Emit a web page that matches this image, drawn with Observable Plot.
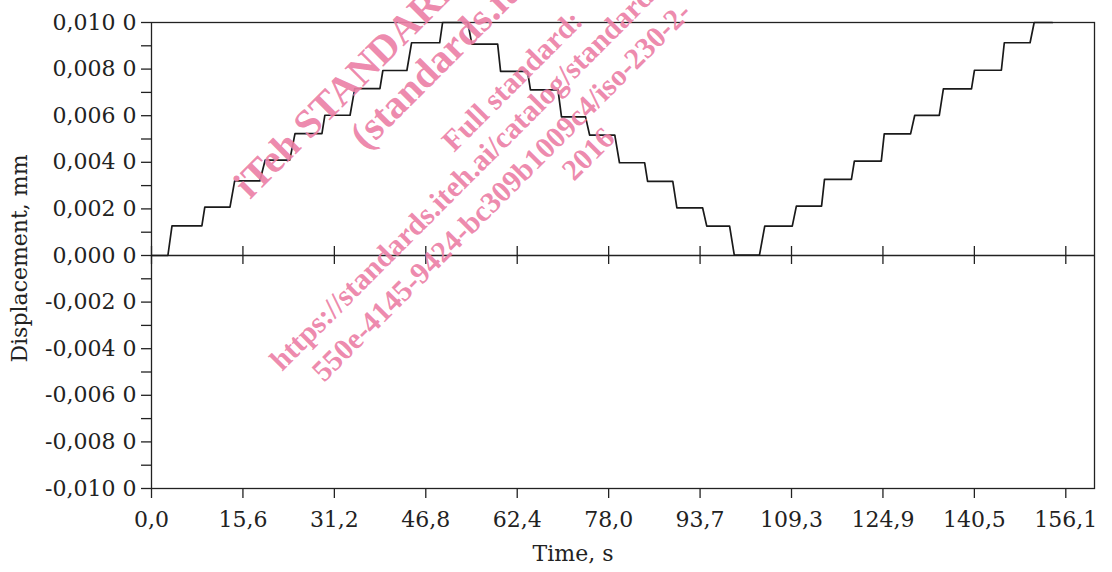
<!DOCTYPE html>
<html><head><meta charset="utf-8">
<script src="https://cdn.jsdelivr.net/npm/d3@7"></script>
<script src="https://cdn.jsdelivr.net/npm/@observablehq/plot@0.6"></script>
<style>
html,body{margin:0;padding:0;background:#fff;}
#wrap{position:relative;width:1112px;height:572px;overflow:hidden;}
#wm{position:absolute;left:0;top:0;pointer-events:none;}
</style></head><body>
<div id="wrap"></div>
<script>
// Corner points of the recorded staircase trace (time in s, displacement in mm)
const time = [0, 2.8, 3.5, 8.6, 9.1, 13.4, 14.2, 18.5, 19.4, 23.6, 24.5, 29.1, 29.6, 33.9, 34.7, 39.0, 39.5, 43.6, 44.4, 49.2, 49.7,
  54.0, 54.7, 59.1, 59.6, 64.2, 64.7, 69.4, 70.0, 74.1, 74.8, 79.1, 79.9, 84.2, 84.7, 89.0, 89.7, 94.1, 94.8, 98.7, 99.5,
  103.8, 104.7, 109.4, 110.1, 114.4, 114.9, 119.5, 120.0, 124.6, 125.1, 129.6, 130.3, 134.5, 135.2, 140.0, 140.5, 145.1, 145.6, 150.0, 150.7, 153.8];
const displacement = [0, 0, 0.00127, 0.00127, 0.00208, 0.00208, 0.00320, 0.00320, 0.00409, 0.00409, 0.00523, 0.00523, 0.00602, 0.00602, 0.00716, 0.00716, 0.00794, 0.00794, 0.00913, 0.00913, 0.01000,
  0.01000, 0.00907, 0.00907, 0.00790, 0.00790, 0.00711, 0.00711, 0.00595, 0.00595, 0.00517, 0.00517, 0.00398, 0.00398, 0.00318, 0.00318, 0.00204, 0.00204, 0.00126, 0.00126, 0.00002,
  0.00002, 0.00126, 0.00126, 0.00212, 0.00212, 0.00327, 0.00327, 0.00405, 0.00405, 0.00522, 0.00522, 0.00601, 0.00601, 0.00715, 0.00715, 0.00795, 0.00795, 0.00913, 0.00913, 0.01000, 0.01000];

const xTickValues = [0, 15.61, 31.22, 46.83, 62.44, 78.05, 93.66, 109.27, 124.88, 140.49, 156.1];
const xTickLabels = ["0,0", "15,6", "31,2", "46,8", "62,4", "78,0", "93,7", "109,3", "124,9", "140,5", "156,1"];
const yTickValues = [-0.010, -0.009, -0.008, -0.007, -0.006, -0.005, -0.004, -0.003, -0.002, -0.001, 0, 0.001, 0.002, 0.003, 0.004, 0.005, 0.006, 0.007, 0.008, 0.009, 0.010];
const yTickLabels = ["-0,010 0", "", "-0,008 0", "", "-0,006 0", "", "-0,004 0", "", "-0,002 0", "", "0,000 0", "", "0,002 0", "", "0,004 0", "", "0,006 0", "", "0,008 0", "", "0,010 0"];
const xLabel = "Time, s";
const yLabel = "Displacement, mm";
const watermarkLines = [
  {text: "iTeh STANDARD PREVIEW", size: 40},
  {text: "(standards.iteh.ai)", size: 40},
  {text: "Full standard:", size: 30},
  {text: "https://standards.iteh.ai/catalog/standards/sist/", size: 30},
  {text: "550e-4145-9424-bc309b1009c4/iso-230-2-", size: 30},
  {text: "2016", size: 30}
];
const watermarkAnchors = [[250, 200], [366, 151], [454, 153], [282, 372], [324, 383], [574, 182]];

const data = time.map((t, i) => ({t, v: displacement[i]}));
const xLabelMap = new Map(xTickValues.map((v, i) => [v, xTickLabels[i]]));
const yLabelMap = new Map(yTickValues.map((v, i) => [v, yTickLabels[i]]));
const ink = "#222";

const chart = Plot.plot({
  width: 1112,
  height: 572,
  marginLeft: 151,
  marginRight: 18,
  marginTop: 22,
  marginBottom: 84,
  x: {domain: [0, 161]},
  y: {domain: [-0.01, 0.01]},
  style: {fontFamily: "DejaVu Serif", fontSize: "22px", color: ink, background: "#fff"},
  marks: [
    Plot.ruleY([0], {stroke: ink, strokeWidth: 1.3}),
    Plot.ruleX(xTickValues, {x: d => d, y1: 0, y2: 0, insetTop: -9, insetBottom: -9, stroke: ink, strokeWidth: 1.3}),
    Plot.axisX(xTickValues, {tickSize: 10, tickPadding: 13, tickFormat: d => xLabelMap.get(d), label: null, strokeWidth: 1.3}),
    Plot.axisY(yTickValues, {tickSize: 10, tickPadding: 5, tickFormat: d => yLabelMap.get(d), label: null, strokeWidth: 1.3}),
    Plot.frame({stroke: ink, strokeWidth: 1.3}),
    Plot.line(data, {x: "t", y: "v", stroke: "#1a1a1a", strokeWidth: 1.7}),
    Plot.text([xLabel], {text: d => d, frameAnchor: "bottom", textAnchor: "middle", dx: -50, dy: 72, fontSize: 22, fill: ink}),
    Plot.text([yLabel], {text: d => d, frameAnchor: "left", textAnchor: "middle", rotate: -90, dx: -132, dy: 3, fontSize: 22, fill: ink})
  ]
});
const wrap = document.getElementById("wrap");
wrap.appendChild(chart);

// watermark overlay
const wm = d3.select(wrap).append("svg").attr("id", "wm").attr("width", 1112).attr("height", 572);
wm.selectAll("text").data(watermarkLines).join("text")
  .attr("transform", (d, i) => `translate(${watermarkAnchors[i][0]},${watermarkAnchors[i][1]}) rotate(-45)`)
  .attr("font-family", "Liberation Serif")
  .attr("font-weight", "bold")
  .attr("font-size", d => d.size)
  .attr("fill", "#ec80a6")
  .attr("fill-opacity", 0.92)
  .text(d => d.text);
</script>
</body></html>
